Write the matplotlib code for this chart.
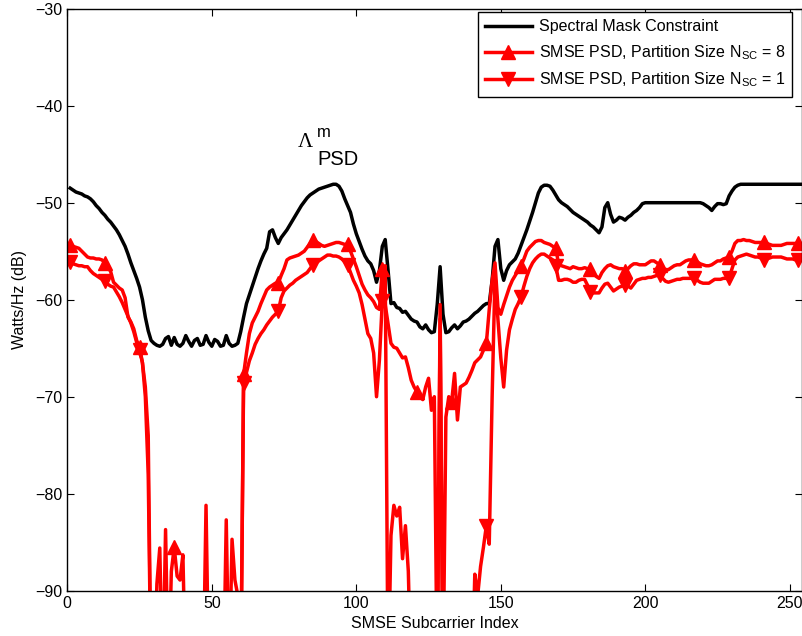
import numpy as np
import matplotlib
matplotlib.use('Agg')
import matplotlib.pyplot as plt

plt.rcParams['font.family'] = ['Liberation Sans', 'DejaVu Sans']
plt.rcParams['mathtext.fontset'] = 'custom'
plt.rcParams['mathtext.rm'] = 'Liberation Sans'
plt.rcParams['mathtext.it'] = 'Liberation Sans:italic'

# subcarrier index 1..256, values in dB (-100 = below the plotted floor)
mask = [
    -48.5, -48.7, -48.9, -49.0, -49.1, -49.3, -49.4, -49.6, -49.9, -50.3,
    -50.6, -51.0, -51.3, -51.7, -52.0, -52.4, -52.8, -53.3, -53.9, -54.5,
    -55.3, -56.2, -57.0, -57.8, -58.7, -60.0, -61.8, -63.2, -64.2, -64.5,
    -64.7, -64.8, -64.6, -64.0, -63.8, -64.7, -63.9, -64.6, -64.8, -64.5,
    -63.7, -64.3, -64.8, -64.2, -64.0, -64.7, -64.6, -63.7, -64.4, -64.8,
    -64.1, -64.3, -64.8, -64.7, -63.7, -64.5, -64.8, -64.7, -64.5, -63.3,
    -61.8, -60.4, -59.5, -58.6, -57.7, -56.8, -56.0, -55.3, -54.7, -53.0,
    -52.8, -53.6, -54.2, -53.6, -53.2, -52.8, -52.3, -51.8, -51.3, -50.8,
    -50.3, -49.9, -49.5, -49.2, -49.0, -48.8, -48.6, -48.5, -48.4, -48.3,
    -48.2, -48.1, -48.1, -48.3, -48.8, -49.6, -50.3, -51.0, -52.2, -53.2,
    -54.0, -54.8, -55.5, -56.0, -56.3, -57.0, -58.2, -57.0, -54.5, -53.8,
    -57.0, -60.4, -60.3, -60.8, -60.9, -61.3, -61.2, -61.6, -62.0, -62.2,
    -62.3, -62.8, -63.0, -62.6, -63.1, -63.4, -63.3, -60.5, -56.6, -61.5,
    -63.4, -63.3, -62.9, -62.6, -63.0, -62.7, -62.3, -62.2, -62.0, -61.7,
    -61.4, -61.2, -60.9, -60.6, -60.4, -60.4, -58.0, -54.5, -53.8, -56.8,
    -58.0, -57.0, -56.4, -56.1, -55.8, -55.2, -54.4, -53.6, -52.8, -51.9,
    -51.0, -50.0, -49.0, -48.4, -48.2, -48.2, -48.3, -48.7, -49.2, -49.7,
    -50.0, -50.2, -50.4, -50.7, -51.0, -51.2, -51.4, -51.6, -51.8, -52.0,
    -52.3, -52.5, -52.8, -53.1, -52.5, -50.5, -50.0, -51.2, -52.0, -51.8,
    -51.5, -51.6, -51.8, -51.5, -51.3, -51.0, -50.8, -50.5, -50.1, -50.0,
    -50.0, -50.0, -50.0, -50.0, -50.0, -50.0, -50.0, -50.0, -50.0, -50.0,
    -50.0, -50.0, -50.0, -50.0, -50.0, -50.0, -50.0, -50.0, -50.0, -50.1,
    -50.3, -50.5, -50.8, -50.4, -50.1, -50.1, -50.2, -50.1, -49.3, -48.8,
    -48.4, -48.2, -48.1, -48.1, -48.1, -48.1, -48.1, -48.1, -48.1, -48.1,
    -48.1, -48.1, -48.1, -48.1, -48.1, -48.1, -48.1, -48.1, -48.1, -48.1,
    -48.1, -48.1, -48.1, -48.1, -48.1, -48.1,
]

psd_n8 = [
    -54.4, -54.5, -54.6, -54.7, -55.0, -55.3, -55.6, -55.7, -55.7, -55.8,
    -55.8, -55.9, -56.2, -56.6, -57.1, -58.2, -58.5, -58.8, -59.0, -59.8,
    -61.8, -62.3, -63.0, -64.2, -64.9, -66.5, -69.0, -74.0, -100, -100,
    -89.3, -85.6, -100, -83.7, -100, -88.0, -85.5, -88.5, -88.9, -86.3,
    -100, -100, -100, -100, -100, -100, -100, -100, -100, -100,
    -100, -100, -100, -100, -100, -100, -100, -100, -100, -100,
    -67.7, -65.5, -63.5, -62.4, -61.8, -61.2, -60.4, -59.7, -59.0, -58.7,
    -58.5, -58.3, -58.3, -57.5, -56.8, -55.9, -55.7, -55.6, -55.5, -55.4,
    -55.2, -55.0, -54.6, -54.2, -53.8, -54.0, -54.2, -54.4, -54.5, -54.4,
    -54.3, -54.2, -54.1, -54.1, -54.2, -54.3, -54.3, -55.0, -55.8, -56.6,
    -57.5, -58.4, -59.0, -59.5, -59.8, -60.2, -60.8, -61.0, -56.8, -60.5,
    -62.5, -64.5, -64.9, -65.0, -65.5, -66.0, -65.9, -67.0, -68.3, -69.0,
    -69.5, -70.0, -70.3, -69.0, -68.1, -71.4, -70.0, -100, -60.5, -100,
    -72.1, -70.0, -70.5, -67.6, -72.4, -69.0, -68.8, -68.6, -68.0, -67.3,
    -66.5, -66.2, -65.9, -65.2, -64.5, -61.0, -58.0, -56.2, -60.8, -61.5,
    -60.5, -59.6, -58.7, -58.0, -57.5, -57.0, -56.5, -55.8, -55.0, -54.6,
    -54.3, -54.0, -53.9, -53.9, -54.1, -54.2, -54.3, -54.5, -54.7, -56.3,
    -56.5, -56.6, -56.7, -56.8, -56.6, -56.7, -56.8, -56.8, -56.7, -56.8,
    -56.8, -57.3, -57.6, -57.8, -57.2, -56.8, -56.5, -56.4, -56.6, -56.7,
    -56.8, -56.8, -57.0, -56.8, -56.5, -56.3, -56.3, -56.4, -56.4, -56.4,
    -56.2, -56.0, -56.0, -56.2, -56.4, -56.7, -57.0, -56.9, -56.7, -56.5,
    -56.4, -56.4, -56.2, -56.0, -55.9, -55.9, -55.9, -56.1, -56.3, -56.4,
    -56.5, -56.5, -56.4, -56.2, -56.0, -56.0, -55.8, -55.7, -55.6, -55.0,
    -54.2, -53.9, -53.9, -53.8, -53.9, -53.9, -54.0, -54.1, -54.1, -54.1,
    -54.1, -54.2, -54.3, -54.4, -54.4, -54.4, -54.4, -54.3, -54.2, -54.2,
    -54.2, -54.2, -54.2, -54.3, -54.4, -54.4,
]

psd_n1 = [
    -56.1, -56.3, -56.4, -56.5, -56.5, -56.6, -56.6, -57.0, -57.3, -57.5,
    -57.7, -57.9, -58.1, -58.4, -58.6, -58.7, -59.2, -59.7, -60.3, -61.0,
    -61.7, -62.4, -63.3, -64.4, -65.2, -66.5, -70.0, -78.0, -100, -100,
    -100, -100, -100, -100, -100, -100, -100, -100, -100, -100,
    -100, -100, -100, -100, -100, -100, -100, -81.2, -100, -100,
    -100, -100, -100, -100, -82.7, -100, -84.7, -88.9, -90.5, -100,
    -68.6, -67.5, -66.3, -65.5, -64.6, -64.0, -63.5, -63.1, -62.6, -62.2,
    -61.8, -61.5, -61.2, -59.8, -59.1, -58.8, -58.5, -58.3, -58.0, -57.8,
    -57.6, -57.4, -57.2, -56.8, -56.4, -56.2, -56.0, -55.8, -55.6, -55.4,
    -55.4, -55.5, -55.5, -55.6, -55.8, -56.1, -56.4, -57.2, -58.0, -58.6,
    -59.3, -60.5, -62.0, -63.5, -64.0, -65.5, -70.0, -66.2, -60.1, -56.5,
    -100, -84.3, -81.2, -82.3, -81.4, -86.7, -83.3, -88.0, -100, -100,
    -100, -100, -100, -100, -100, -100, -100, -100, -62.0, -100,
    -100, -100, -100, -100, -100, -100, -100, -100, -100, -100,
    -88.3, -90.5, -87.5, -85.5, -83.3, -85.2, -70.0, -57.5, -62.0, -66.0,
    -69.0, -65.2, -63.1, -62.0, -61.0, -60.4, -59.7, -58.6, -57.6, -56.8,
    -56.2, -55.8, -55.5, -55.3, -55.3, -55.5, -55.7, -55.9, -56.5, -58.0,
    -58.0, -57.9, -57.9, -58.0, -58.2, -58.2, -58.0, -57.9, -57.9, -58.5,
    -59.2, -59.3, -59.3, -59.3, -58.8, -58.4, -58.3, -58.7, -59.1, -58.9,
    -58.7, -58.6, -58.5, -58.6, -58.8, -58.4, -58.0, -57.9, -57.8, -57.8,
    -57.7, -57.7, -57.6, -57.5, -57.5, -57.8, -58.1, -58.2, -58.1, -58.0,
    -57.9, -57.9, -57.8, -57.8, -57.8, -57.8, -57.8, -58.0, -58.2, -58.3,
    -58.3, -58.3, -58.1, -57.9, -57.9, -57.9, -57.8, -57.8, -57.8, -56.8,
    -55.9, -55.6, -55.5, -55.4, -55.3, -55.4, -55.5, -55.6, -55.6, -55.7,
    -55.9, -55.8, -55.7, -55.6, -55.6, -55.6, -55.6, -55.7, -55.8, -55.8,
    -55.8, -55.9, -55.9, -55.9, -55.8, -55.8,
]

idx = np.arange(1, len(mask) + 1)

fig = plt.figure(figsize=(8.02, 6.36), dpi=100)
ax = fig.add_axes([67.3 / 802, 45.3 / 636, 734.7 / 802, 582.0 / 636])

ax.plot(idx, mask, color='black', lw=2.5, label='Spectral Mask Constraint')
ax.plot(idx, psd_n8, color='#ff0000', lw=2.5, marker='^', ms=10, markevery=12,
        label='SMSE PSD, Partition Size N$_{\\mathrm{SC}}$ = 8')
ax.plot(idx, psd_n1, color='#ff0000', lw=2.5, marker='v', ms=10, markevery=12,
        label='SMSE PSD, Partition Size N$_{\\mathrm{SC}}$ = 1')

ax.set_xlim(0, 734.7 / 2.89)
ax.set_ylim(-90, -30)
ax.set_xticks(np.arange(0, 251, 50))
ax.set_yticks(np.arange(-90, -29, 10))
ax.tick_params(direction='in', top=True, right=True, length=5, labelsize=11.5)
for s in ax.spines.values():
    s.set_linewidth(1.0)

ax.set_xlabel('SMSE Subcarrier Index', fontsize=11.5, labelpad=4)
ax.set_ylabel('Watts/Hz (dB)', fontsize=11.5, labelpad=6)

ax.text(79.8, -44.3, '\u039b', family='Liberation Serif', fontsize=15)
ax.text(86.4, -43.2, 'm', fontsize=12)
ax.text(86.4, -46.1, 'PSD', fontsize=14.5)

leg = ax.legend(loc='upper right', bbox_to_anchor=(0.987, 0.994), borderaxespad=0,
                fontsize=11.5, fancybox=False, framealpha=1, edgecolor='black',
                handlelength=2.9, handletextpad=0.45, labelspacing=0.55,
                borderpad=0.45)
leg.get_frame().set_linewidth(1.0)

fig.savefig('out.png', dpi=100)
